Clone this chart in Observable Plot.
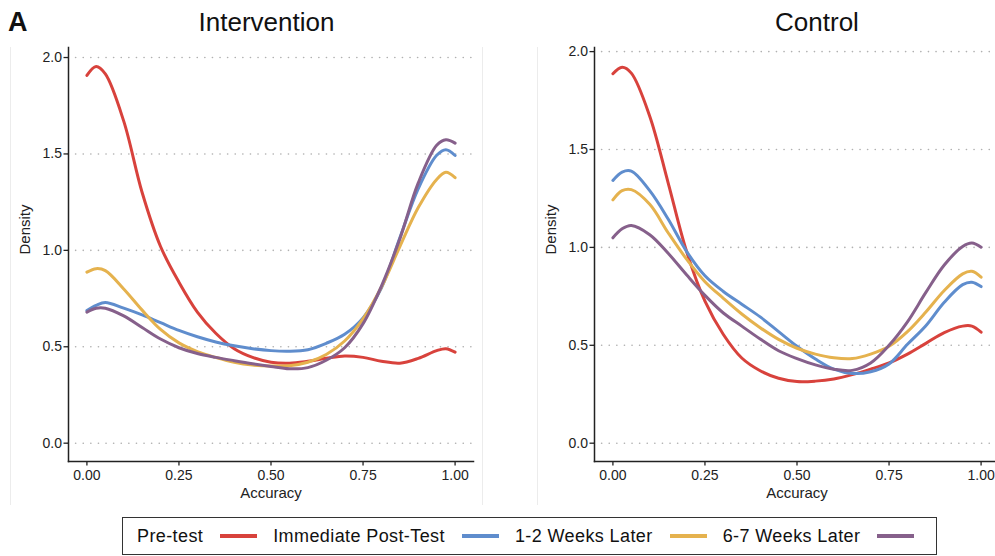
<!DOCTYPE html>
<html>
<head>
<meta charset="utf-8">
<script src="https://cdn.jsdelivr.net/npm/d3@7"></script>
<script src="https://cdn.jsdelivr.net/npm/@observablehq/plot@0.6"></script>
<style>
  html, body { margin: 0; padding: 0; background: #fff; }
  body { width: 995px; height: 556px; position: relative; overflow: hidden;
         font-family: "Liberation Sans", Arial, Helvetica, sans-serif; color: #111; }
  .panel { position: absolute; top: 0; width: 482px; height: 510px; }
  .panel svg { max-width: none; }
  .title { position: absolute; top: 9px; font-size: 26px; line-height: 26px;
           transform: translateX(-50%); white-space: nowrap; }
  .tag { position: absolute; left: 8px; top: 9px; font-size: 27px; line-height: 27px; font-weight: bold; }
  .edge { position: absolute; top: 47px; height: 458px; width: 1px; background: #ececec; }
  .legend { position: absolute; left: 122px; top: 517px; width: 815px; height: 38px;
            border: 1px solid #333; box-sizing: border-box; display: flex; align-items: center;
            padding-left: 14px; font-size: 18px; letter-spacing: 0.4px; }
  .legend .lab { white-space: nowrap; }
  .legend .key { width: 37px; height: 3.5px; margin: 0 16px 0 17px; }
</style>
</head>
<body>
<script>
// Accuracy grid on which every density curve is sampled
const accuracy = [0, 0.025, 0.05, 0.1, 0.15, 0.2, 0.25, 0.3, 0.35, 0.4, 0.45, 0.5,
                  0.55, 0.6, 0.65, 0.7, 0.75, 0.8, 0.85, 0.9, 0.95, 0.975, 1.0];

const timepoints = ["Pre-test", "Immediate Post-Test", "1-2 Weeks Later", "6-7 Weeks Later"];
const timeColors = ["#d8423c", "#5f8dcd", "#e5b24e", "#86608b"];

// Intervention group densities
const intPre  = [1.907, 1.953, 1.915, 1.67, 1.30, 1.02, 0.835, 0.68, 0.57, 0.49, 0.445, 0.42,
                 0.415, 0.425, 0.44, 0.452, 0.445, 0.425, 0.415, 0.44, 0.48, 0.49, 0.472];
const intPost = [0.688, 0.715, 0.73, 0.70, 0.665, 0.625, 0.585, 0.552, 0.525, 0.505, 0.49, 0.48,
                 0.477, 0.485, 0.518, 0.565, 0.65, 0.805, 1.065, 1.32, 1.493, 1.522, 1.492];
const intWk2  = [0.887, 0.905, 0.895, 0.80, 0.69, 0.59, 0.52, 0.475, 0.445, 0.42, 0.405, 0.40,
                 0.402, 0.42, 0.46, 0.53, 0.645, 0.81, 1.02, 1.222, 1.368, 1.405, 1.377];
const intWk7  = [0.68, 0.70, 0.70, 0.66, 0.60, 0.54, 0.495, 0.465, 0.445, 0.428, 0.412, 0.398,
                 0.386, 0.392, 0.43, 0.495, 0.62, 0.815, 1.06, 1.35, 1.545, 1.574, 1.556];

// Control group densities
const ctlPre  = [1.887, 1.92, 1.89, 1.67, 1.33, 0.98, 0.725, 0.555, 0.435, 0.37, 0.332, 0.315,
                 0.317, 0.328, 0.35, 0.378, 0.41, 0.455, 0.51, 0.565, 0.598, 0.598, 0.567];
const ctlPost = [1.342, 1.385, 1.39, 1.29, 1.145, 0.98, 0.855, 0.775, 0.71, 0.645, 0.57, 0.495,
                 0.43, 0.378, 0.356, 0.365, 0.405, 0.505, 0.60, 0.72, 0.81, 0.822, 0.80];
const ctlWk2  = [1.243, 1.29, 1.295, 1.22, 1.075, 0.94, 0.825, 0.74, 0.66, 0.59, 0.53, 0.485,
                 0.455, 0.436, 0.432, 0.455, 0.495, 0.57, 0.67, 0.78, 0.865, 0.878, 0.848];
const ctlWk7  = [1.049, 1.095, 1.112, 1.065, 0.97, 0.86, 0.755, 0.665, 0.598, 0.532, 0.472, 0.432,
                 0.40, 0.378, 0.372, 0.41, 0.50, 0.62, 0.77, 0.91, 1.005, 1.023, 1.001];

const xTicks = [0, 0.25, 0.5, 0.75, 1];
const yTicks = [0, 0.5, 1.0, 1.5, 2.0];

function longTable(seriesList) {
  const rows = [];
  seriesList.forEach((vals, i) => {
    vals.forEach((d, j) => rows.push({time: timepoints[i], accuracy: accuracy[j], density: d}));
  });
  return rows;
}

function panel(rows, yDomain) {
  return Plot.plot({
    width: 482, height: 510,
    marginLeft: 68, marginRight: 9, marginTop: 47, marginBottom: 49,
    x: {domain: [-0.05, 1.05]},
    y: {domain: yDomain},
    color: {domain: timepoints, range: timeColors},
    style: {fontFamily: "'Liberation Sans', Arial, sans-serif", fontSize: "14px",
            color: "#222", background: "transparent", overflow: "visible"},
    marks: [
      Plot.gridY(yTicks, {stroke: "#b0b0b0", strokeOpacity: 1, strokeWidth: 1.6, strokeDasharray: "0.1,7.5", strokeLinecap: "round"}),
      Plot.axisX(xTicks, {tickFormat: d3.format(".2f"), tickSize: 4.5, tickPadding: 4, label: null,
                          stroke: "#222", strokeWidth: 1.3, fill: "#222"}),
      Plot.axisY(yTicks, {tickFormat: d3.format(".1f"), tickSize: 4.5, tickPadding: 2, label: null,
                          stroke: "#222", strokeWidth: 1.3, fill: "#222"}),
      Plot.frame({anchor: "left", stroke: "#222", strokeWidth: 1.5}),
      Plot.frame({anchor: "bottom", stroke: "#222", strokeWidth: 1.5}),
      Plot.line(rows, {x: "accuracy", y: "density", z: "time", stroke: "time",
                       strokeWidth: 3, curve: "catmull-rom"}),
      Plot.text(["Density"], {frameAnchor: "left", dx: -43, rotate: -90, fontSize: 15, fill: "#222"}),
      Plot.text(["Accuracy"], {frameAnchor: "bottom", dy: 36, fontSize: 15, fill: "#222"})
    ]
  });
}

function place(node, left) {
  const wrap = document.createElement("div");
  wrap.className = "panel";
  wrap.style.left = left + "px";
  wrap.appendChild(node);
  document.body.appendChild(wrap);
}

function addDiv(cls, text, styles) {
  const el = document.createElement("div");
  el.className = cls;
  if (text) el.textContent = text;
  Object.assign(el.style, styles || {});
  document.body.appendChild(el);
  return el;
}

// faint sub-figure edges
[9.5, 482, 537].forEach(x => addDiv("edge", null, {left: x + "px"}));

place(panel(longTable([intPre, intPost, intWk2, intWk7]), [-0.095, 2.052]), 0);
place(panel(longTable([ctlPre, ctlPost, ctlWk2, ctlWk7]), [-0.0935, 2.021]), 526);

addDiv("tag", "A");
addDiv("title", "Intervention", {left: "266.5px"});
addDiv("title", "Control", {left: "817px"});

// legend: label followed by its line key
const legend = addDiv("legend");
timepoints.forEach((t, i) => {
  const lab = document.createElement("span");
  lab.className = "lab";
  lab.textContent = t;
  const key = document.createElement("span");
  key.className = "key";
  key.style.background = timeColors[i];
  legend.appendChild(lab);
  legend.appendChild(key);
});
</script>
</body>
</html>
